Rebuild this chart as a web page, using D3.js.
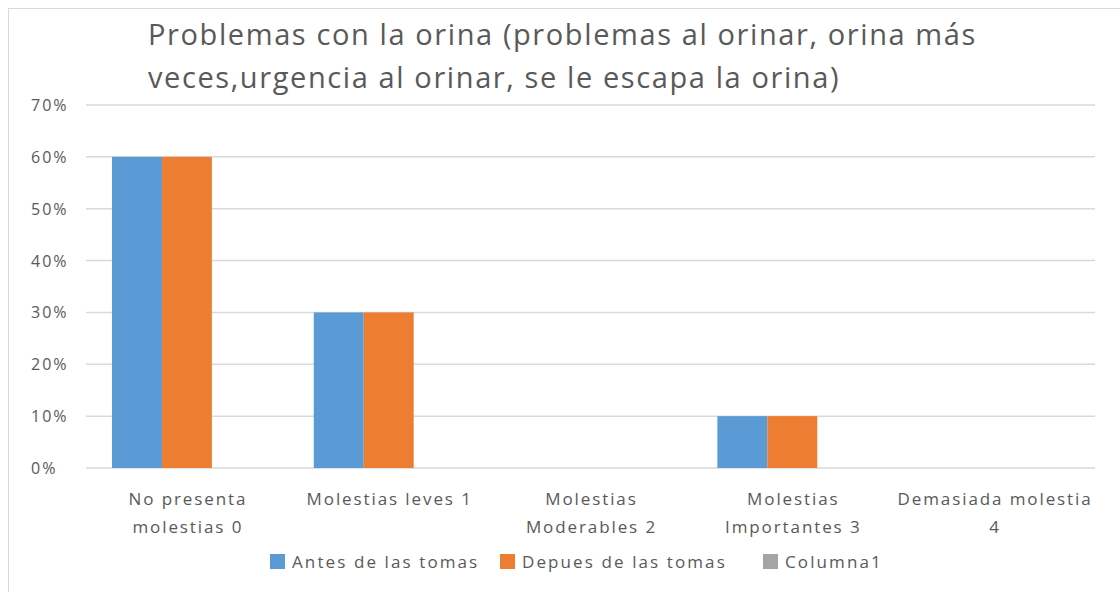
<!DOCTYPE html>
<html>
<head>
<meta charset="utf-8">
<script src="https://cdn.jsdelivr.net/npm/d3@7"></script>
<style>
  body { margin: 0; background: #fff; }
  text { font-family: "Open Sans", sans-serif; fill: #595959; }
</style>
</head>
<body>
<div id="chart"></div>
<script>
// data
var categories = ["No presenta molestias 0", "Molestias leves 1", "Molestias Moderables 2", "Molestias Importantes 3", "Demasiada molestia 4"];
var categoryLines = [["No presenta", "molestias 0"], ["Molestias leves 1"], ["Molestias", "Moderables 2"], ["Molestias", "Importantes 3"], ["Demasiada molestia", "4"]];
var seriesNames = ["Antes de las tomas", "Depues de las tomas", "Columna1"];
var antes = [0.6, 0.3, 0, 0.1, 0];
var depues = [0.6, 0.3, 0, 0.1, 0];
var columna1 = [0, 0, 0, 0, 0];
var yTicks = [0, 0.1, 0.2, 0.3, 0.4, 0.5, 0.6, 0.7];
var titleLines = ["Problemas con la orina (problemas al orinar, orina más", "veces,urgencia al orinar, se le escapa la orina)"];

var colors = ["#5b9bd5", "#ed7d31", "#a5a5a5"];
var seriesValues = [antes, depues, columna1];

var svg = d3.select("#chart").append("svg")
  .attr("width", 1120)
  .attr("height", 592);

// chart area frame
svg.append("rect")
  .attr("x", 8.5).attr("y", 8.5)
  .attr("width", 1130).attr("height", 600)
  .attr("fill", "#fff")
  .attr("stroke", "#d9d9d9")
  .attr("stroke-width", 1);

// scales
var x = d3.scaleBand().domain(categories).range([86, 1095]);
var xSeries = d3.scaleBand().domain(seriesNames)
  .range([0, x.bandwidth()]).paddingOuter(0.52);
var y = d3.scaleLinear().domain([0, 0.7]).range([468, 105]);

// gridlines
svg.append("g")
  .selectAll("line")
  .data(yTicks)
  .enter()
  .append("line")
  .attr("x1", 86).attr("x2", 1095)
  .attr("y1", function(d) { return y(d); })
  .attr("y2", function(d) { return y(d); })
  .attr("stroke", "#d9d9d9")
  .attr("stroke-width", 1.5);

// y tick labels
svg.append("g")
  .selectAll("text")
  .data(yTicks)
  .enter()
  .append("text")
  .attr("x", 31)
  .attr("y", function(d) { return y(d) + 6; })
  .style("font-size", "16px")
  .style("letter-spacing", "2px")
  .text(d3.format(".0%"));

// bars
seriesValues.forEach(function(vals, i) {
  svg.append("g")
    .selectAll("rect")
    .data(vals)
    .enter()
    .append("rect")
    .attr("x", function(d, j) { return x(categories[j]) + xSeries(seriesNames[i]); })
    .attr("y", function(d) { return y(d); })
    .attr("width", xSeries.bandwidth())
    .attr("height", function(d) { return y(0) - y(d); })
    .attr("fill", colors[i]);
});

// x labels
var xl = svg.append("g")
  .selectAll("text")
  .data(categoryLines)
  .enter()
  .append("text")
  .attr("text-anchor", "middle")
  .style("font-size", "17px")
  .style("letter-spacing", "1.9px");
xl.each(function(lines, j) {
  var t = d3.select(this);
  lines.forEach(function(l, k) {
    t.append("tspan")
      .attr("x", x(categories[j]) + x.bandwidth() / 2 + 1)
      .attr("y", 505 + k * 28)
      .text(l);
  });
});

// title
svg.append("g")
  .selectAll("text")
  .data(titleLines)
  .enter()
  .append("text")
  .attr("x", 148)
  .attr("y", function(d, i) { return 45 + i * 43; })
  .style("font-size", "29px")
  .style("letter-spacing", "1.6px")
  .text(function(d) { return d; });

// legend
var legendX = [270, 500, 763];
var lg = svg.append("g")
  .selectAll("g")
  .data(seriesNames)
  .enter()
  .append("g")
  .attr("transform", function(d, i) { return "translate(" + legendX[i] + ",554)"; });
lg.append("rect")
  .attr("width", 15).attr("height", 15)
  .attr("fill", function(d, i) { return colors[i]; });
lg.append("text")
  .attr("x", 22)
  .attr("y", 14)
  .style("font-size", "17px")
  .style("letter-spacing", "2.1px")
  .text(function(d) { return d; });
</script>
</body>
</html>
